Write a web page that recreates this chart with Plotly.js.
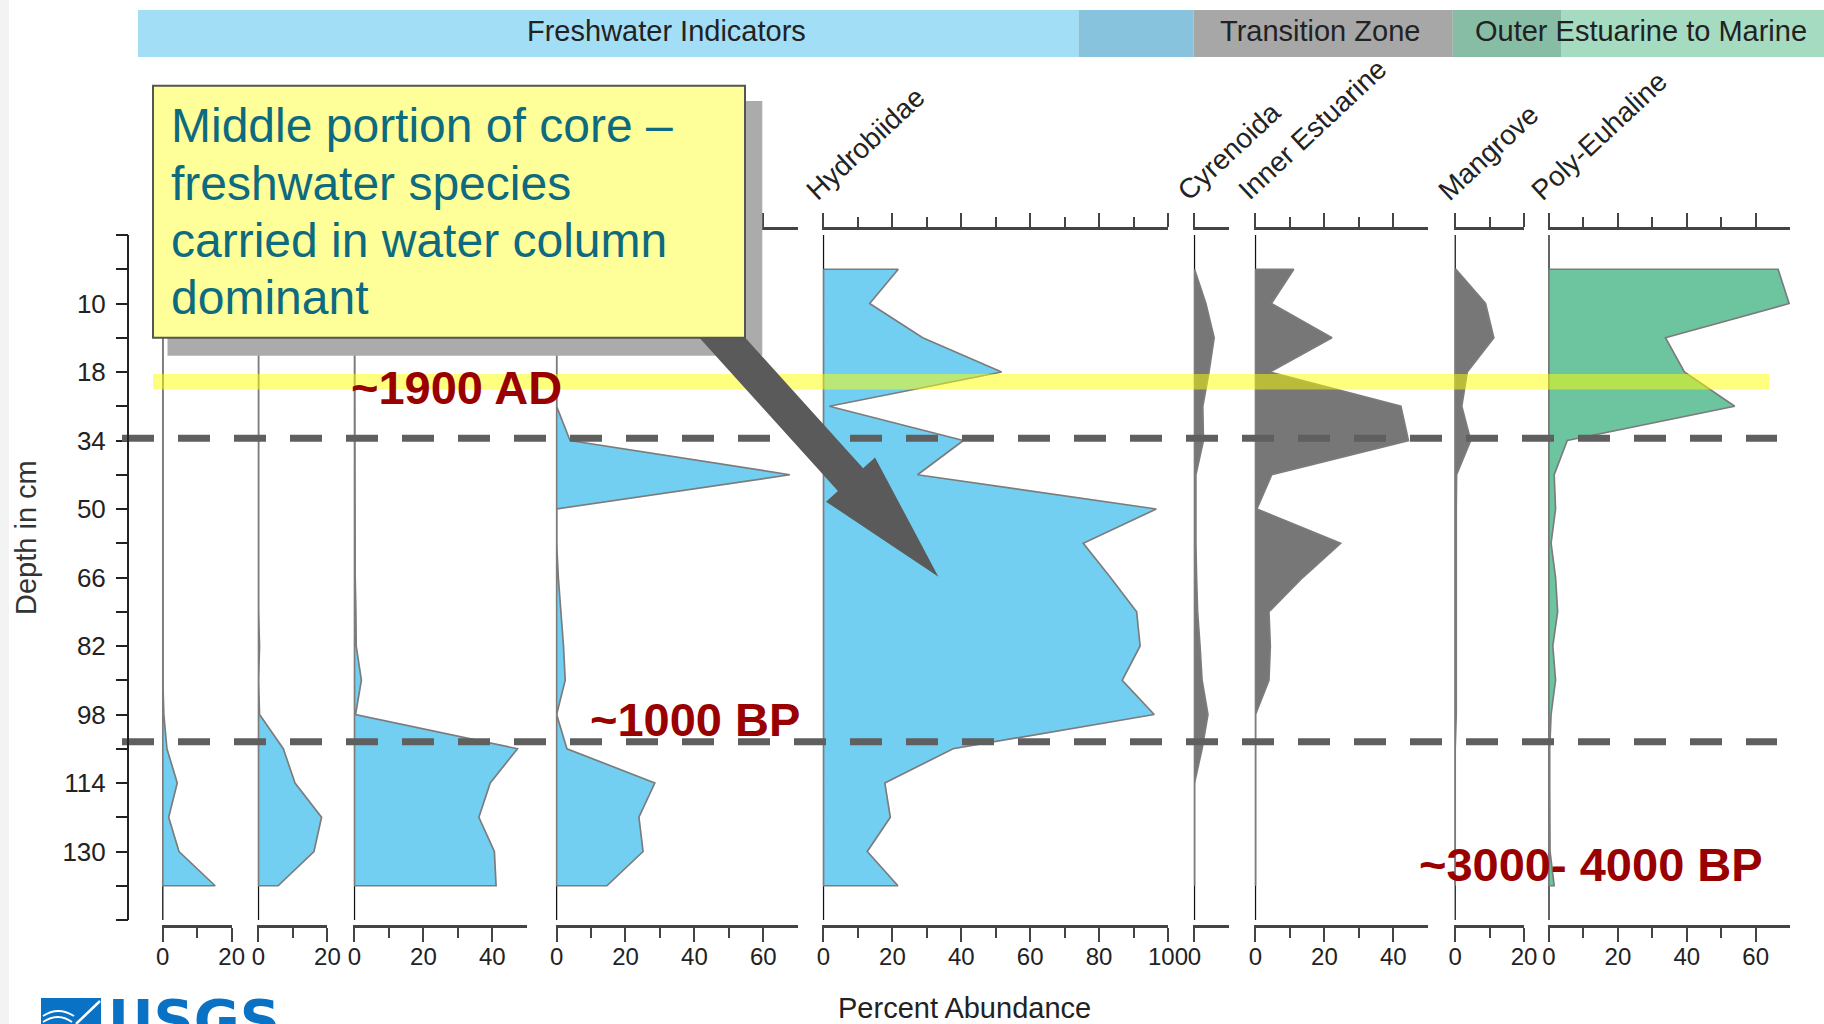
<!DOCTYPE html>
<html>
<head>
<meta charset="utf-8">
<script src="https://cdn.plot.ly/plotly-3.0.1.min.js"></script>
<style>
  html, body { margin: 0; padding: 0; background: #ffffff; }
  #chart { width: 1824px; height: 1024px; }
</style>
</head>
<body>
<div id="chart"></div>
<script>
// ---- Stratigraphic levels (sample positions down the core) ----
const sampleLevel = [1, 2, 3, 4, 5, 6, 7, 8, 9, 10, 11, 12, 13, 14, 15, 16, 17, 18, 19];
const depthTickVals = [0, 1, 2, 3, 4, 5, 6, 7, 8, 9, 10, 11, 12, 13, 14, 15, 16, 17, 18, 19, 20];
const depthTickText = ['', '', '10', '', '18', '', '34', '', '50', '', '66', '', '82', '', '98', '', '114', '', '130', '', ''];

// ---- Percent abundance per taxon group, one value per sample level ----
const fresh1 = [0, 0, 0, 0, 0, 0, 0, 0, 0, 0, 0, 0, 0, 0.3, 1.2, 4.2, 1.7, 4.7, 15.2];
const fresh2 = [0, 0, 0, 0, 0, 0, 0, 0, 0, 0, 0, 0.3, 0, 0.3, 7.2, 10.6, 18.3, 16.1, 5.7];
const fresh3 = [0, 0, 0, 0, 0, 0, 0, 0, 0, 0.2, 0.4, 0.5, 2.0, 0.3, 47.3, 39.4, 36.1, 40.6, 41.1];
const fresh4 = [0, 0, 0, 0, 0, 3.9, 67.7, 0, 0, 0.5, 1.3, 2.0, 2.5, 0, 3.0, 28.5, 23.9, 25.1, 14.6];
const hydrobiidae = [21.7, 13.4, 28.8, 51.7, 1.7, 40.6, 27.3, 96.6, 75.4, 83.3, 90.9, 91.9, 86.7, 96.0, 37.6, 17.8, 19.4, 12.7, 21.6];
const cyrenoida = [0, 3.3, 5.7, 4.2, 2.4, 2.6, 0.4, 0.3, 0.4, 0.6, 0.9, 1.6, 2.2, 3.9, 2.2, 0, 0, 0, 0];
const innerEstuarine = [11.1, 4.6, 22.2, 4.2, 42.2, 44.4, 4.7, 0.4, 24.7, 13.7, 3.9, 4.3, 3.9, 0, 0, 0, 0, 0, 0];
const mangrove = [0.2, 8.8, 11.2, 3.5, 1.9, 4.5, 0.4, 0.3, 0.3, 0.3, 0.4, 0.4, 0.3, 0.3, 0, 0, 0, 0, 0];
const polyEuhaline = [66.5, 69.7, 33.8, 39.3, 53.9, 5.3, 1.5, 1.9, 0.6, 1.9, 2.5, 1.1, 1.9, 0.6, 0.2, 0.2, 0.2, 0.3, 1.5];

const seriesValues = [fresh1, fresh2, fresh3, fresh4, hydrobiidae, cyrenoida, innerEstuarine, mangrove, polyEuhaline];
const seriesNames = ['', '', '', '', 'Hydrobiidae', 'Cyrenoida', 'Inner Estuarine', 'Mangrove', 'Poly-Euhaline'];
const seriesAxisMax = [20, 20, 50, 70, 100, 10, 50, 20, 70];

// ---- Zone headers ----
const zoneNames = ['Freshwater Indicators', 'Transition Zone', 'Outer Estuarine to Marine'];

// ---- Dated horizons ----
const horizonLabels = ['~1900 AD', '~1000 BP', '~3000- 4000 BP'];

// ---- Page geometry (pixels) and styling ----
const W = 1824, H = 1024;
const X = x => x / W;
const Y = y => 1 - y / H;
const PX_PER_PCT = 3.445;
const panelLeft = [162.8, 258.5, 354.5, 556.6, 823.5, 1194.5, 1255.5, 1455.2, 1549];
const panelFill = ['#73CFF1', '#73CFF1', '#73CFF1', '#73CFF1', '#73CFF1', '#777777', '#777777', '#777777', '#6DC59F'];
const LEVEL_TOP_PX = 235, LEVEL_STEP_PX = 34.25;
const PAD_LEVEL = 0.15;
const FONT = 'Liberation Sans, Arial, Helvetica, sans-serif';

const traces = [];
const layout = {
  width: W, height: H,
  margin: { l: 0, r: 0, t: 0, b: 0 },
  paper_bgcolor: '#ffffff', plot_bgcolor: 'rgba(0,0,0,0)',
  showlegend: false,
  font: { family: FONT, color: '#222222' },
  shapes: [], annotations: []
};

// shared depth axis
const yTopPx = LEVEL_TOP_PX - PAD_LEVEL * LEVEL_STEP_PX;
const yBotPx = LEVEL_TOP_PX + (20 + PAD_LEVEL) * LEVEL_STEP_PX;
layout.yaxis = {
  domain: [Y(yBotPx), Y(yTopPx)],
  range: [20 + PAD_LEVEL, -PAD_LEVEL],
  anchor: 'free', position: X(128), side: 'left',
  tickmode: 'array', tickvals: depthTickVals, ticktext: depthTickText,
  ticks: 'outside', ticklen: 12, tickwidth: 2, tickcolor: '#222222',
  tickfont: { family: FONT, size: 26, color: '#222222' },
  ticklabelstandoff: 5,
  showline: false, showgrid: false, zeroline: false, fixedrange: true
};

const LEFT_PAD_PCT = 0.3;
seriesValues.forEach((vals, i) => {
  const n = i + 1;
  const xName = n === 1 ? 'x' : 'x' + n;
  const axKey = n === 1 ? 'xaxis' : 'xaxis' + n;
  const max = seriesAxisMax[i];
  const x0 = panelLeft[i];
  const majors = [], minors = [];
  for (let v = 0; v <= max; v += 10) {
    if (max === 10) { if (v === 0) majors.push(v); continue; }
    if (v % 20 === 0) majors.push(v); else if (v < max) minors.push(v);
  }
  layout[axKey] = {
    domain: [X(x0 - LEFT_PAD_PCT * PX_PER_PCT), X(x0 + max * PX_PER_PCT)],
    range: [-LEFT_PAD_PCT, max],
    anchor: 'y',
    showline: true, linecolor: '#444444', linewidth: 2.5, mirror: 'ticks',
    ticks: 'outside', ticklen: 14, tickwidth: 2, tickcolor: '#444444',
    tickmode: 'array', tickvals: majors, ticktext: majors.map(String),
    tickfont: { family: FONT, size: 24, color: '#222222' },
    ticklabelstandoff: -5,
    minor: { tickmode: 'array', tickvals: minors, ticks: 'outside', ticklen: 10, tickwidth: 2, tickcolor: '#444444', showgrid: false },
    showgrid: false, zeroline: false, fixedrange: true
  };
  // panel baseline (zero abundance)
  traces.push({
    type: 'scatter', mode: 'lines', x: [0, 0], y: [0, 20],
    xaxis: xName, yaxis: 'y', line: { color: '#111111', width: 1.3 }, hoverinfo: 'skip'
  });
  // silhouette polygon
  const first = sampleLevel[0], last = sampleLevel[sampleLevel.length - 1];
  traces.push({
    type: 'scatter', mode: 'lines',
    x: [0].concat(vals, [0, 0]),
    y: [first].concat(sampleLevel, [last, first]),
    fill: 'toself', fillcolor: panelFill[i],
    line: { color: '#7C7C7C', width: 1.7 },
    xaxis: xName, yaxis: 'y', hoverinfo: 'skip'
  });
});

const S = layout.shapes, A = layout.annotations;
const rectPx = (x0, y0, x1, y1, fill, extra) => Object.assign({
  type: 'rect', xref: 'paper', yref: 'paper',
  x0: X(x0), x1: X(x1), y0: Y(y1), y1: Y(y0),
  fillcolor: fill, line: { width: 0 }, layer: 'above'
}, extra || {});

// faint margin at the left edge
S.push(rectPx(0, 0, 9, 1024, '#F3F3F3', { layer: 'below' }));

// zone header band
const zoneSegments = [[138, 1078.6, '#A2DEF5'], [1078.6, 1193.5, '#87C3DC'], [1193.5, 1452.8, '#A7A7A7'], [1452.8, 1561, '#87BDA4'], [1561, 1824, '#A4DBC1']];
zoneSegments.forEach(s => S.push(rectPx(s[0], 10, s[1], 57, s[2], { layer: 'below' })));
const zoneCenters = [666, 1320, 1641];
zoneNames.forEach((t, i) => A.push({
  text: t, xref: 'paper', yref: 'paper', x: X(zoneCenters[i]), y: Y(31),
  xanchor: 'center', yanchor: 'middle', showarrow: false,
  font: { family: FONT, size: 29, color: '#222222' }
}));

// highlighted horizon band
S.push(rectPx(153, 374, 1769, 389.5, 'rgba(255,255,0,0.5)'));

// boundary dashed lines
[438.3, 741.7].forEach(yy => S.push({
  type: 'line', xref: 'paper', yref: 'paper', x0: X(122), x1: X(1777), y0: Y(yy), y1: Y(yy),
  line: { color: '#5F5F5F', width: 7, dash: '32px,24px' }, layer: 'above'
}));

// depth axis spine
S.push({ type: 'line', xref: 'paper', yref: 'y', x0: X(128), x1: X(128), y0: 0, y1: 20,
  line: { color: '#222222', width: 2 }, layer: 'above' });

// callout: shadow, arrow, box
S.push(rectPx(167.5, 101, 762.3, 355.7, '#ABABAB'));
(function () {
  const tip = [938.4, 576.7];
  const ang = Math.atan2(97.2, 87.9);
  const d = [Math.cos(ang), Math.sin(ang)], nrm = [Math.sin(ang), -Math.cos(ang)];
  const headLen = 131, headHalf = 33, shaftHalf = 17, shaftLen = 250;
  const b = [tip[0] - headLen * d[0], tip[1] - headLen * d[1]];
  const s = [b[0] - shaftLen * d[0], b[1] - shaftLen * d[1]];
  const p = (c, k) => [c[0] + k * nrm[0], c[1] + k * nrm[1]];
  const pts = [p(s, shaftHalf), p(b, shaftHalf), p(b, headHalf), tip, p(b, -headHalf), p(b, -shaftHalf), p(s, -shaftHalf)];
  const path = pts.map((q, i) => (i ? 'L' : 'M') + X(q[0]).toFixed(5) + ',' + Y(q[1]).toFixed(5)).join(' ') + ' Z';
  S.push({ type: 'path', xref: 'paper', yref: 'paper', path: path, fillcolor: '#5A5A5A', line: { width: 0 }, layer: 'above' });
})();
S.push(rectPx(153, 85.7, 745, 337.7, '#FFFF99', { line: { color: '#555555', width: 2 } }));

const CALLOUT_SIZE = 48;
const calloutLines = ['Middle portion of core \u2013', 'freshwater species', 'carried in water column', 'dominant'];
const calloutBaselines = [141.7, 199, 256.7, 313];
calloutLines.forEach((t, i) => A.push({
  text: t, xref: 'paper', yref: 'paper', x: X(169), y: Y(calloutBaselines[i] - 0.33 * CALLOUT_SIZE),
  xanchor: 'left', yanchor: 'middle', showarrow: false,
  font: { family: FONT, size: CALLOUT_SIZE, color: '#0D6A7F' }
}));

// horizon labels
const horizonPos = [[456, 403], [695, 735], [1591, 880]];
horizonLabels.forEach((t, i) => A.push({
  text: '<b>' + t + '</b>', xref: 'paper', yref: 'paper',
  x: X(horizonPos[i][0]), y: Y(horizonPos[i][1] - 0.33 * 47),
  xanchor: 'center', yanchor: 'middle', showarrow: false,
  font: { family: FONT, size: 47, color: '#990000' }
}));

// rotated taxon names above the panels
const LABEL_SIZE = 28, LABEL_ANGLE = 43;
const ctx = document.createElement('canvas').getContext('2d');
ctx.font = LABEL_SIZE + 'px "Liberation Sans", Arial, sans-serif';
seriesNames.forEach((t, i) => {
  if (!t) return;
  const L = ctx.measureText(t).width;
  const th = LABEL_ANGLE * Math.PI / 180;
  const sx = panelLeft[i] - 6, sy = 201.5;
  const cx = sx + (L / 2) * Math.cos(th) - 0.33 * LABEL_SIZE * Math.sin(th);
  const cy = sy - (L / 2) * Math.sin(th) - 0.33 * LABEL_SIZE * Math.cos(th);
  A.push({
    text: t, xref: 'paper', yref: 'paper', x: X(cx), y: Y(cy),
    xanchor: 'center', yanchor: 'middle', textangle: -LABEL_ANGLE, showarrow: false,
    font: { family: FONT, size: LABEL_SIZE, color: '#222222' }
  });
});

// axis titles
A.push({ text: 'Depth in cm', xref: 'paper', yref: 'paper', x: X(26), y: Y(538),
  xanchor: 'center', yanchor: 'middle', textangle: -90, showarrow: false,
  font: { family: FONT, size: 29, color: '#333333' } });
A.push({ text: 'Percent Abundance', xref: 'paper', yref: 'paper', x: X(964), y: Y(1008),
  xanchor: 'center', yanchor: 'middle', showarrow: false,
  font: { family: FONT, size: 29, color: '#222222' } });

// agency mark (cut by the page edge)
S.push({ type: 'path', xref: 'paper', yref: 'paper', layer: 'above', line: { width: 0 }, fillcolor: '#0A72C4',
  path: 'M' + X(41) + ',' + Y(998) + ' L' + X(101) + ',' + Y(998) + ' L' + X(101) + ',' + Y(1024) + ' L' + X(41) + ',' + Y(1024) + ' Z' });
S.push({ type: 'path', xref: 'paper', yref: 'paper', layer: 'above', line: { color: '#ffffff', width: 2.5 },
  path: 'M' + X(76) + ',' + Y(1024) + ' L' + X(100) + ',' + Y(1001) });
S.push({ type: 'path', xref: 'paper', yref: 'paper', layer: 'above', line: { color: '#ffffff', width: 1.8 },
  path: 'M' + X(43) + ',' + Y(1016) + ' Q' + X(58) + ',' + Y(1006) + ' ' + X(74) + ',' + Y(1016) });
S.push({ type: 'path', xref: 'paper', yref: 'paper', layer: 'above', line: { color: '#ffffff', width: 1.8 },
  path: 'M' + X(43) + ',' + Y(1022) + ' Q' + X(58) + ',' + Y(1012) + ' ' + X(72) + ',' + Y(1022) });
A.push({ text: '<b>USGS</b>', xref: 'paper', yref: 'paper', x: X(106), y: Y(1019),
  xanchor: 'left', yanchor: 'middle', showarrow: false,
  font: { family: 'DejaVu Sans, ' + FONT, size: 56, color: '#0A72C4' } });

Plotly.newPlot('chart', traces, layout, { displayModeBar: false, staticPlot: true });
</script>
</body>
</html>
